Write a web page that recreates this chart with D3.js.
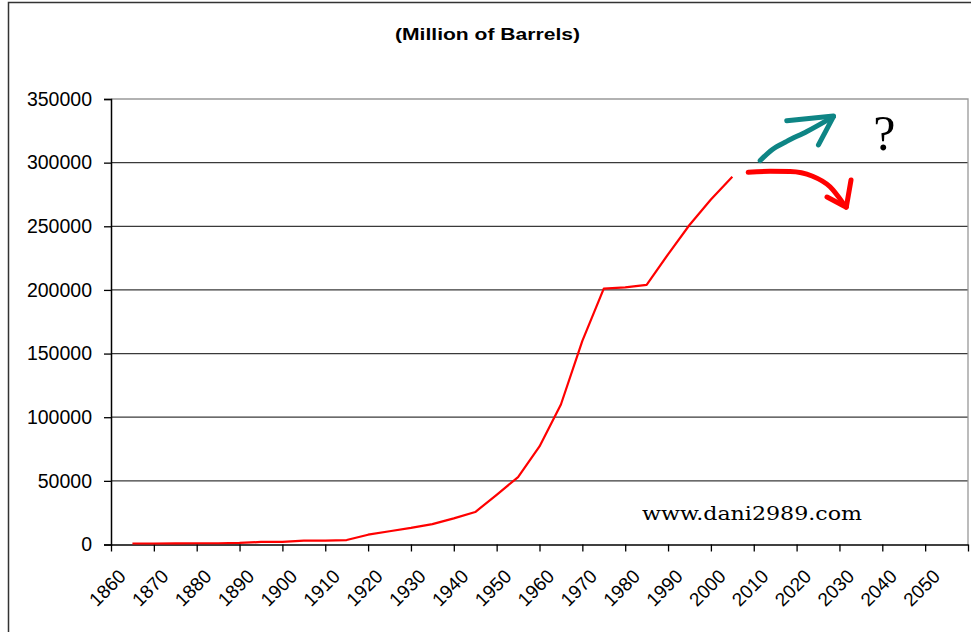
<!DOCTYPE html>
<html>
<head>
<meta charset="utf-8">
<script src="https://cdn.jsdelivr.net/npm/d3@7"></script>
<style>
  body { margin: 0; background: #fff; }
  svg { display: block; }
</style>
</head>
<body>
<div class="canvas"></div>
<script>
// data (five-year steps)
var years = [1865,1870,1875,1880,1885,1890,1895,1900,1905,1910,1915,1920,1925,1930,1935,
             1940,1945,1950,1955,1960,1965,1970,1975,1980,1985,1990,1995,2000,2005];
var barrels = [800,800,900,1000,1000,1200,2000,2000,3000,3000,3500,7700,10400,13000,16000,
               20500,25500,39000,53000,77000,110000,160000,201000,202000,204000,228000,251000,271000,289000];

var yTicks = [0,50000,100000,150000,200000,250000,300000,350000];
var xTicks = d3.range(1860, 2061, 10);
var xLabels = d3.range(1860, 2051, 10);

// hand drawn arrows, as [year, value]
var upArrow = [[2011.5,301700],[2014.2,310000],[2017.7,316700],[2022.4,324500],[2028.6,336200]];
var upWing1 = [[2017.7,333000],[2028.6,336600]];
var upWing2 = [[2028.6,336200],[2025.1,313900]];
var downArrow = [[2008.7,292400],[2013.8,293200],[2018.5,293000],[2023.6,289500],[2027.8,281000],[2030.8,268400]];
var downWing1 = [[2027.1,273000],[2031.6,265000]];
var downWing2 = [[2031.6,265000],[2032.7,286400]];

var pageWidth = 971, pageHeight = 632;
var margins = {t:99, r:3, b:88, l:111};

var svg = d3.select('.canvas')
    .append('svg')
    .attr('width', pageWidth)
    .attr('height', pageHeight);

// chart border (runs off the right and bottom edge)
svg.append('rect')
    .attr('x', 8.5).attr('y', 2.5)
    .attr('width', 980).attr('height', 650)
    .style('fill', 'none')
    .style('stroke', '#333')
    .style('stroke-width', 1.5);

var x = d3.scaleLinear().domain([1860, 2060]).range([0, 857]);
var y = d3.scaleLinear().domain([0, 350000]).range([445.5, 0]);

var plot = svg.append('g')
    .attr('transform', 'translate(' + margins.l + ',' + margins.t + ')');

// grid
plot.selectAll('.grid')
    .data(yTicks.slice(1, -1))
    .enter()
    .append('line')
    .attr('class', 'grid')
    .attr('x1', 0).attr('x2', x(2060))
    .attr('y1', function(d){ return y(d); })
    .attr('y2', function(d){ return y(d); })
    .style('stroke', '#3a3a3a')
    .style('stroke-width', 1.3);

// plot area border, top and right
plot.append('path')
    .attr('d', 'M0,' + y(350000) + 'H' + x(2060) + 'V' + y(0))
    .style('fill', 'none')
    .style('stroke', '#999')
    .style('stroke-width', 1.3);

// y axis
var yAxis = d3.axisLeft(y)
    .tickValues(yTicks)
    .tickSize(7)
    .tickPadding(12)
    .tickFormat(d3.format('d'));
var yG = plot.append('g').call(yAxis);
yG.select('.domain').style('stroke', '#000').style('stroke-width', 1.5);
yG.selectAll('.tick line').style('stroke', '#000').style('stroke-width', 1.3);
yG.selectAll('text')
    .style('font-family', 'Liberation Sans, Arial, sans-serif')
    .style('font-size', '19.5px')
    .style('fill', '#000');

// x axis
var xAxis = d3.axisBottom(x)
    .tickValues(xTicks)
    .tickSize(7)
    .tickSizeOuter(0)
    .tickFormat('');
var xG = plot.append('g')
    .attr('transform', 'translate(0,' + y(0) + ')')
    .call(xAxis);
xG.select('.domain').style('stroke', '#000').style('stroke-width', 1.5);
xG.selectAll('.tick line').style('stroke', '#000').style('stroke-width', 1.3);

// x labels sit between ticks, rotated
plot.selectAll('.xlab')
    .data(xLabels)
    .enter()
    .append('text')
    .attr('class', 'xlab')
    .attr('transform', function(d){
        return 'translate(' + (x(d) + 16) + ',' + (y(0) + 33) + ') rotate(-45)';
    })
    .attr('text-anchor', 'end')
    .style('font-family', 'Liberation Sans, Arial, sans-serif')
    .style('font-size', '19px')
    .style('fill', '#000')
    .text(function(d){ return d; });

// the series
var line = d3.line()
    .x(function(d, i){ return x(years[i]); })
    .y(function(d){ return y(d); });

plot.append('path')
    .datum(barrels)
    .attr('d', line)
    .style('fill', 'none')
    .style('stroke', '#ff0000')
    .style('stroke-width', 2.2)
    .style('stroke-linejoin', 'round');

// arrows
var curve = d3.line()
    .x(function(d){ return x(d[0]); })
    .y(function(d){ return y(d[1]); })
    .curve(d3.curveMonotoneX);

function drawStroke(pts, color){
    plot.append('path')
        .attr('d', curve(pts))
        .style('fill', 'none')
        .style('stroke', color)
        .style('stroke-width', 5)
        .style('stroke-linecap', 'round')
        .style('stroke-linejoin', 'round');
}
drawStroke(upArrow, '#0e8585');
drawStroke(upWing1, '#0e8585');
drawStroke(upWing2, '#0e8585');
drawStroke(downArrow, '#ff0000');
drawStroke(downWing1, '#ff0000');
drawStroke(downWing2, '#ff0000');

// question mark
plot.append('text')
    .attr('x', x(2040.5))
    .attr('y', y(300000) - 13)
    .attr('text-anchor', 'middle')
    .style('font-family', 'Liberation Serif, Times New Roman, serif')
    .style('font-size', '50px')
    .style('fill', '#000')
    .text('?');

// title
svg.append('text')
    .attr('x', 395)
    .attr('y', 40)
    .attr('textLength', 185)
    .attr('lengthAdjust', 'spacingAndGlyphs')
    .style('font-family', 'Liberation Sans, Arial, sans-serif')
    .style('font-weight', 'bold')
    .style('font-size', '17px')
    .style('fill', '#000')
    .text('(Million of Barrels)');

// watermark
svg.append('text')
    .attr('x', 642)
    .attr('y', 520)
    .attr('textLength', 220)
    .attr('lengthAdjust', 'spacingAndGlyphs')
    .style('font-family', 'DejaVu Serif, serif')
    .style('font-size', '19px')
    .style('fill', '#000')
    .text('www.dani2989.com');
</script>
</body>
</html>
